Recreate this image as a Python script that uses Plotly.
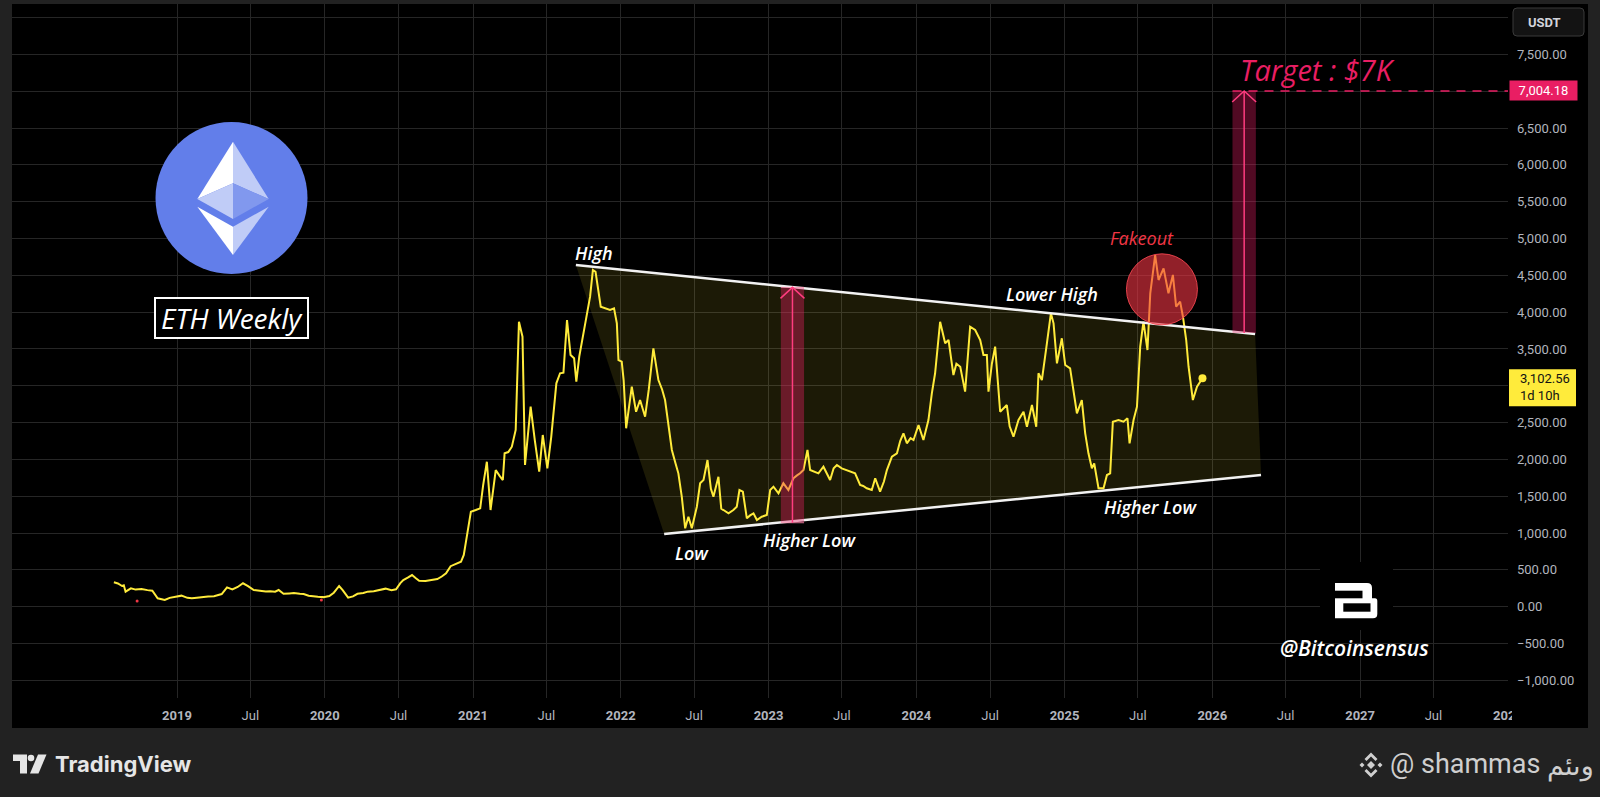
import pandas as pd
import plotly.graph_objects as go

# ---------------- data ----------------
# weekly ETH/USDT closes; time given as decimal year
eth_time = [
    2018.573, 2018.600, 2018.628, 2018.640, 2018.652, 2018.688, 2018.720, 2018.760, 2018.800, 2018.833,
    2018.869, 2018.893, 2018.917, 2018.950, 2018.989, 2019.030, 2019.070, 2019.100, 2019.134, 2019.170,
    2019.210, 2019.250, 2019.280, 2019.302, 2019.338, 2019.374, 2019.410, 2019.446, 2019.480, 2019.519,
    2019.560, 2019.600, 2019.630, 2019.663, 2019.687, 2019.720, 2019.760, 2019.790, 2019.830, 2019.856,
    2019.890, 2019.920, 2019.952, 2019.990, 2020.030, 2020.060, 2020.096, 2020.120, 2020.157, 2020.190,
    2020.220, 2020.260, 2020.289, 2020.330, 2020.370, 2020.410, 2020.450, 2020.481, 2020.510, 2020.530,
    2020.560, 2020.589, 2020.613, 2020.637, 2020.680, 2020.722, 2020.760, 2020.790, 2020.819, 2020.850,
    2020.890, 2020.920, 2020.939, 2020.963, 2020.987, 2021.020, 2021.050, 2021.070, 2021.095, 2021.120,
    2021.155, 2021.180, 2021.203, 2021.215, 2021.240, 2021.264, 2021.290, 2021.312, 2021.336, 2021.353,
    2021.391, 2021.420, 2021.449, 2021.473, 2021.490, 2021.504, 2021.530, 2021.565, 2021.590, 2021.613,
    2021.637, 2021.661, 2021.685, 2021.700, 2021.720, 2021.757, 2021.793, 2021.812, 2021.830, 2021.865,
    2021.897, 2021.928, 2021.955, 2021.974, 2021.985, 2022.007, 2022.020, 2022.037, 2022.075, 2022.104,
    2022.131, 2022.165, 2022.190, 2022.221, 2022.255, 2022.280, 2022.300, 2022.346, 2022.370, 2022.390,
    2022.413, 2022.436, 2022.458, 2022.481, 2022.515, 2022.537, 2022.560, 2022.587, 2022.610, 2022.627,
    2022.661, 2022.680, 2022.695, 2022.729, 2022.762, 2022.785, 2022.803, 2022.826, 2022.853, 2022.875,
    2022.898, 2022.921, 2022.954, 2022.988, 2023.011, 2023.033, 2023.067, 2023.100, 2023.134, 2023.168,
    2023.190, 2023.213, 2023.236, 2023.263, 2023.281, 2023.310, 2023.337, 2023.371, 2023.390, 2023.416,
    2023.440, 2023.462, 2023.495, 2023.529, 2023.560, 2023.585, 2023.619, 2023.640, 2023.664, 2023.698,
    2023.721, 2023.754, 2023.780, 2023.800, 2023.834, 2023.868, 2023.890, 2023.912, 2023.935, 2023.960,
    2023.980, 2024.014, 2024.047, 2024.081, 2024.104, 2024.126, 2024.160, 2024.194, 2024.217, 2024.250,
    2024.270, 2024.296, 2024.329, 2024.350, 2024.363, 2024.397, 2024.431, 2024.453, 2024.476, 2024.487,
    2024.510, 2024.532, 2024.566, 2024.611, 2024.630, 2024.656, 2024.690, 2024.724, 2024.747, 2024.781,
    2024.810, 2024.825, 2024.848, 2024.882, 2024.909, 2024.927, 2024.950, 2024.983, 2025.006, 2025.039,
    2025.062, 2025.085, 2025.118, 2025.141, 2025.163, 2025.186, 2025.202, 2025.231, 2025.265, 2025.288,
    2025.310, 2025.328, 2025.366, 2025.400, 2025.427, 2025.441, 2025.468, 2025.491, 2025.513, 2025.535,
    2025.562, 2025.581, 2025.614, 2025.637, 2025.671, 2025.704, 2025.734, 2025.756, 2025.783, 2025.802,
    2025.824, 2025.840, 2025.869, 2025.897, 2025.934,
]
eth_close = [
    331, 315, 281, 290, 204, 250, 232, 240, 225, 217,
    114, 105, 91, 120, 136, 150, 120, 115, 122, 135,
    140, 142, 160, 172, 263, 236, 268, 318, 280, 227,
    215, 205, 210, 204, 227, 175, 180, 185, 175, 172,
    150, 148, 136, 130, 145, 190, 281, 225, 122, 140,
    175, 185, 204, 210, 230, 245, 225, 236, 320, 362,
    395, 430, 390, 353, 350, 362, 375, 410, 453, 550,
    589, 610, 702, 1000, 1290, 1313, 1336, 1650, 1969, 1313,
    1856, 1780, 1720, 2083, 2100, 2173, 2400, 3870, 3667, 1924,
    2716, 2250, 1833, 2332, 2100, 1880, 2300, 3034, 3170, 3178,
    3893, 3418, 3373, 3055, 3400, 3802, 4210, 4572, 4549, 4074,
    4052, 4029, 4052, 3848, 3350, 3327, 3078, 2423, 2988, 2648,
    2807, 2580, 2950, 3509, 3078, 2950, 2807, 2128, 1950, 1811,
    1494, 1065, 1222, 1065, 1358, 1676, 1720, 1992, 1600, 1494,
    1765, 1330, 1313, 1268, 1313, 1358, 1585, 1562, 1200, 1240,
    1268, 1177, 1222, 1245, 1585, 1630, 1540, 1676, 1585, 1744,
    1780, 1811, 1856, 2128, 1856, 1830, 1811, 1901, 1830, 1720,
    1880, 1924, 1879, 1856, 1830, 1811, 1653, 1640, 1608, 1585,
    1744, 1562, 1700, 1856, 2037, 2083, 2250, 2355, 2219, 2290,
    2264, 2467, 2264, 2535, 2898, 3170, 3870, 3577, 3622, 3146,
    3300, 3259, 2920, 3500, 3802, 3758, 3622, 3418, 3418, 2920,
    3300, 3531, 2648, 2739, 2450, 2309, 2535, 2648, 2444, 2739,
    2444, 3170, 3078, 3577, 3984, 3848, 3305, 3645, 3282, 3237,
    2898, 2626, 2807, 2355, 2083, 1879, 1947, 1608, 1608, 1788,
    1811, 2512, 2535, 2512, 2558, 2219, 2535, 2716, 3531, 3870,
    3486, 4256, 4776, 4437, 4595, 4256, 4505, 4074, 4142, 3938,
    3622, 3259, 2807, 2988, 3102.56,
]
event_time = [2018.73, 2019.976]
event_value = [77, 90]

# chart drawings (anchors as time / price)
upper_time = [2021.697, 2026.29]
upper_price = [4640, 3703]
lower_time = [2022.294, 2026.33]
lower_price = [987, 1790]
range1_time = [2023.083, 2023.24]
range1_price = [1140, 4337]
range2_time = [2026.137, 2026.295]
range2_price = [3717, 7004.18]
target_price = 7004.18
fake_time, fake_price = 2025.66, 4310
label_text = ["High", "Lower High", "Low", "Higher Low", "Higher Low"]
label_time = [2021.817, 2024.918, 2022.483, 2023.274, 2025.581]
label_price = [4803, 4246, 729, 906, 1354]

x_tick_dates = ["2019-01-01", "2019-07-01", "2020-01-01", "2020-07-01", "2021-01-01", "2021-07-01",
                "2022-01-01", "2022-07-01", "2023-01-01", "2023-07-01", "2024-01-01", "2024-07-01",
                "2025-01-01", "2025-07-01", "2026-01-01", "2026-07-01", "2027-01-01", "2027-07-01",
                "2028-01-01"]
x_tick_text = ["<b>2019</b>", "Jul", "<b>2020</b>", "Jul", "<b>2021</b>", "Jul", "<b>2022</b>", "Jul",
               "<b>2023</b>", "Jul", "<b>2024</b>", "Jul", "<b>2025</b>", "Jul", "<b>2026</b>", "Jul",
               "<b>2027</b>", "Jul", "<b>2028</b>"]
y_tick_values = [-1000, -500, 0, 500, 1000, 1500, 2000, 2500, 3000, 3500, 4000, 4500,
                 5000, 5500, 6000, 6500, 7000, 7500, 8000]
y_hidden_ticks = [3000, 7000, 8000]   # covered by the price labels / currency box
countdown = "1d 10h"

# ---------------- helpers ----------------
W, H = 1600, 797
PL, PR, PT, PB = 12, 1508, 4, 698


def to_date(t):
    return pd.Timestamp("2019-01-01") + pd.to_timedelta((t - 2019.0) * 365.25, unit="D")


def ds(t):
    return to_date(t).strftime("%Y-%m-%d %H:%M:%S")


def pxx(px):
    return (px - PL) / (PR - PL)


def pxy(py):
    return 1 - (py - PT) / (PB - PT)


def fmt(v):
    s = f"{abs(v):,.2f}"
    return ("\u2212" + s) if v < 0 else s


YEL = "#FFEB3B"
PINK = "#E91E63"
RED = "#F23645"
GRID = "#262626"
AXT = "#B2B5BE"

eth_dates = [to_date(t) for t in eth_time]

fig = go.Figure()

# wedge fill
poly_t = [upper_time[0], upper_time[1], lower_time[1], lower_time[0], upper_time[0]]
poly_p = [upper_price[0], upper_price[1], lower_price[1], lower_price[0], upper_price[0]]
fig.add_trace(go.Scatter(x=[to_date(t) for t in poly_t], y=poly_p, fill="toself",
                         fillcolor="rgba(255,235,59,0.11)", line=dict(width=0), mode="lines",
                         hoverinfo="skip"))
# price line
fig.add_trace(go.Scatter(x=eth_dates, y=eth_close, mode="lines",
                         line=dict(color=YEL, width=2), hoverinfo="skip"))
fig.add_trace(go.Scatter(x=[eth_dates[-1]], y=[eth_close[-1]], mode="markers",
                         marker=dict(color=YEL, size=8), hoverinfo="skip"))
fig.add_trace(go.Scatter(x=[to_date(t) for t in event_time], y=event_value, mode="markers",
                         marker=dict(color=RED, size=3), hoverinfo="skip"))
# trend lines
for tt, pp in ((upper_time, upper_price), (lower_time, lower_price)):
    fig.add_trace(go.Scatter(x=[to_date(t) for t in tt], y=pp, mode="lines",
                             line=dict(color="#F2F2F2", width=2.5), hoverinfo="skip"))

shapes = []
# panel background
shapes.append(dict(type="rect", xref="paper", yref="paper", x0=pxx(12), x1=pxx(1588),
                   y0=pxy(728), y1=pxy(4), fillcolor="#000000", line=dict(width=0), layer="below"))

# range boxes + arrows
for (tt, pp, fillc, edge) in ((range1_time, range1_price, "rgba(233,30,99,0.38)", True),
                              (range2_time, range2_price, "rgba(233,30,99,0.35)", False)):
    shapes.append(dict(type="rect", xref="x", yref="y", x0=ds(tt[0]), x1=ds(tt[1]),
                       y0=pp[0], y1=pp[1], fillcolor=fillc, line=dict(width=0), layer="above"))
    if edge:
        for yv in pp:
            shapes.append(dict(type="line", xref="x", yref="y", x0=ds(tt[0]), x1=ds(tt[1]),
                               y0=yv, y1=yv, line=dict(color="rgba(255,150,180,0.75)", width=1),
                               layer="above"))
    mid = (tt[0] + tt[1]) / 2
    shapes.append(dict(type="line", xref="x", yref="y", x0=ds(mid), x1=ds(mid),
                       y0=pp[0], y1=pp[1], line=dict(color="#FF3D7F", width=1.5), layer="above"))
    shapes.append(dict(type="path", xref="x", yref="y", xsizemode="pixel", ysizemode="pixel",
                       xanchor=ds(mid), yanchor=pp[1], path="M -12,-11 L 0,0 L 12,-11",
                       line=dict(color="#FF3D7F", width=1.5), fillcolor="rgba(0,0,0,0)",
                       layer="above"))

# target dashed line
shapes.append(dict(type="line", xref="x", yref="y", x0=ds(range2_time[0]), x1="2028-01-01 06:00:00",
                   y0=target_price, y1=target_price, line=dict(color=PINK, width=1.5, dash="9px,7px"),
                   layer="above"))
# fakeout circle
shapes.append(dict(type="circle", xref="x", yref="y", xsizemode="pixel", ysizemode="pixel",
                   xanchor=ds(fake_time), yanchor=fake_price, x0=-35.5, x1=35.5, y0=-35.5, y1=35.5,
                   fillcolor="rgba(242,54,69,0.6)", line=dict(color="rgba(242,70,80,0.9)", width=1),
                   layer="above"))


def pix_path(ax, ay, path, fill, line_w=0, line_c="rgba(0,0,0,0)"):
    return dict(type="path", xref="paper", yref="paper", xsizemode="pixel", ysizemode="pixel",
                xanchor=pxx(ax), yanchor=pxy(ay), path=path, fillcolor=fill,
                line=dict(width=line_w, color=line_c), layer="above")


# ETH logo
shapes.append(dict(type="circle", xref="paper", yref="paper", xsizemode="pixel", ysizemode="pixel",
                   xanchor=pxx(231.5), yanchor=pxy(198), x0=-76, x1=76, y0=-76, y1=76,
                   fillcolor="#627EEA", line=dict(width=0), layer="above"))
T, L, R, M, B1 = (0, 56.3), (-35.7, -1), (35.7, -1), (0, 14.7), (0, -21)
CL, CR, CI, CB = (-35.7, -8.7), (35.7, -8.7), (0, -28.7), (0, -57)


def tri(a, b, c):
    return f"M {a[0]},{a[1]} L {b[0]},{b[1]} L {c[0]},{c[1]} Z"


for pts, col in (((T, L, M), "#FFFFFF"), ((T, M, R), "#C0CCF7"), ((L, M, B1), "#C0CCF7"),
                 ((M, R, B1), "#8198EE"), ((CL, CI, CB), "#FFFFFF"), ((CI, CR, CB), "#C0CCF7")):
    shapes.append(pix_path(233, 198, tri(*pts), col))

# ETH Weekly box
shapes.append(dict(type="rect", xref="paper", yref="paper", x0=pxx(155), x1=pxx(308),
                   y0=pxy(338), y1=pxy(298), fillcolor="#000000", line=dict(color="#FFFFFF", width=2),
                   layer="above"))

# Bitcoinsensus logo
shapes.append(dict(type="rect", xref="paper", yref="paper", x0=pxx(1320), x1=pxx(1393),
                   y0=pxy(630), y1=pxy(562), fillcolor="#000000", line=dict(width=0), layer="above"))
shapes.append(pix_path(1356, 600,
                       "M -21,17 L 11,17 Q 16,17 16,12 L 16,1.7 L 19,1.7 Q 21.3,1.7 21.3,-1 "
                       "L 21.3,-14 Q 21.3,-18.3 17,-18.3 L -21,-18.3 Z", "#FFFFFF"))
shapes.append(pix_path(1356, 600, "M -21.5,9.3 L 6.5,9.3 L 6.5,1.7 L -21.5,1.7 Z", "#000000"))
shapes.append(pix_path(1356, 600, "M -12.7,-3.3 L 14.5,-3.3 L 14.5,-11.7 L -12.7,-11.7 Z", "#000000"))

# price-axis boxes
shapes.append(pix_path(1548.5, 22,
                       "M -31.5,14 L 31.5,14 Q 35.5,14 35.5,10 L 35.5,-10 Q 35.5,-14 31.5,-14 "
                       "L -31.5,-14 Q -35.5,-14 -35.5,-10 L -35.5,10 Q -35.5,14 -31.5,14 Z",
                       "#131313", 1, "#3A3A3A"))
shapes.append(dict(type="rect", xref="paper", yref="y", ysizemode="pixel", yanchor=eth_close[-1],
                   x0=pxx(1509), x1=pxx(1576), y0=-28, y1=9, fillcolor=YEL, line=dict(width=0),
                   layer="above"))
# mask that cuts the last time label at the price scale
shapes.append(dict(type="rect", xref="paper", yref="paper", x0=pxx(1512), x1=pxx(1588),
                   y0=pxy(727), y1=pxy(700), fillcolor="#000000", line=dict(width=0), layer="above"))

# TradingView logo icon
shapes.append(pix_path(30, 764, "M -17,9.5 L -3,9.5 L -3,-9.5 L -10,-9.5 L -10,3 L -17,3 Z", "#E6E6E6"))
shapes.append(dict(type="circle", xref="paper", yref="paper", xsizemode="pixel", ysizemode="pixel",
                   xanchor=pxx(31), yanchor=pxy(758), x0=-3.3, x1=3.3, y0=-3.3, y1=3.3,
                   fillcolor="#E6E6E6", line=dict(width=0), layer="above"))
shapes.append(pix_path(30, 764, "M 8,9.5 L 16.5,9.5 L 8.5,-9.5 L 0,-9.5 Z", "#E6E6E6"))

# Binance icon
for p in ("M 0,4 L 4,0 L 0,-4 L -4,0 Z",
          "M -9,2.5 L -6.5,0 L -9,-2.5 L -11.5,0 Z",
          "M 9,2.5 L 11.5,0 L 9,-2.5 L 6.5,0 Z",
          "M -6.5,6 L 0,12.5 L 6.5,6 L 4.5,4 L 0,8.5 L -4.5,4 Z",
          "M -6.5,-6 L 0,-12.5 L 6.5,-6 L 4.5,-4 L 0,-8.5 L -4.5,-4 Z"):
    shapes.append(pix_path(1371, 765, p, "#CFCFCF"))

anns = []
LBL = dict(family="Open Sans", size=18, color="#FFFFFF", weight=600)
for txt, t, p in zip(label_text, label_time, label_price):
    anns.append(dict(x=ds(t), y=p, xref="x", yref="y", text=f"<i>{txt}</i>", showarrow=False,
                     font=LBL, xanchor="center", yanchor="middle"))
anns.append(dict(x=ds(2025.526), y=5011, xref="x", yref="y", text="<i>Fakeout</i>", showarrow=False,
                 font=dict(family="Open Sans", size=18, color=RED), xanchor="center", yanchor="middle"))
anns.append(dict(x=ds(2026.176), y=7302, xref="x", yref="y", text="<i>Target : $7K</i>", showarrow=False,
                 font=dict(family="Open Sans", size=29, color=PINK), xanchor="left", yanchor="middle"))
anns.append(dict(x=pxx(231.5), y=pxy(318), xref="paper", yref="paper", text="<i>ETH Weekly</i>",
                 showarrow=False, font=dict(family="Open Sans", size=28, color="#FFFFFF"),
                 xanchor="center", yanchor="middle"))
anns.append(dict(x=pxx(1354), y=pxy(648), xref="paper", yref="paper", text="<i>@Bitcoinsensus</i>",
                 showarrow=False, font=dict(family="Open Sans", size=21, color="#FFFFFF", weight=600),
                 xanchor="center", yanchor="middle"))
# price-axis labels
anns.append(dict(x=pxx(1544), y=pxy(22), xref="paper", yref="paper", text="<b>USDT</b>",
                 showarrow=False, font=dict(family="Roboto", size=13, color="#D1D4DC"),
                 xanchor="center", yanchor="middle"))
anns.append(dict(x=pxx(1509), y=target_price, xref="paper", yref="y", text=fmt(target_price),
                 showarrow=False, font=dict(family="Roboto", size=13, color="#FFFFFF"),
                 bgcolor=PINK, borderpad=2, width=63, align="center", xanchor="left", yanchor="middle"))
anns.append(dict(x=pxx(1518), y=eth_close[-1], xref="paper", yref="y",
                 text=f"{fmt(eth_close[-1])}<br>{countdown}", showarrow=False,
                 font=dict(family="Roboto", size=13, color="#131313"), align="left",
                 xanchor="left", yanchor="top", yshift=9))
# footer
anns.append(dict(x=pxx(53), y=pxy(764), xref="paper", yref="paper", text="<b>TradingView</b>",
                 showarrow=False, font=dict(family="Inter", size=22, color="#E6E6E6"),
                 xanchor="left", yanchor="middle"))
anns.append(dict(x=pxx(1388), y=pxy(764), xref="paper", yref="paper", text="@ shammas",
                 showarrow=False, font=dict(family="Roboto", size=27, color="#CFCFCF"),
                 xanchor="left", yanchor="middle"))
anns.append(dict(x=pxx(1545), y=pxy(766), xref="paper", yref="paper", text="وىئم",
                 showarrow=False, font=dict(family="DejaVu Sans", size=27, color="#CFCFCF"),
                 xanchor="left", yanchor="middle"))

y_tick_text = ["" if v in y_hidden_ticks else fmt(v) for v in y_tick_values]

fig.update_layout(
    width=W, height=H,
    margin=dict(l=PL, r=W - PR, t=PT, b=H - PB, pad=0),
    paper_bgcolor="#222222", plot_bgcolor="#000000",
    showlegend=False, shapes=shapes, annotations=anns,
    font=dict(family="Roboto", color=AXT),
    xaxis=dict(type="date", range=[ds(2017.884), "2028-01-01 06:00:00"],
               tickvals=x_tick_dates, ticktext=x_tick_text, tickfont=dict(size=13, color=AXT),
               showgrid=True, gridcolor=GRID, gridwidth=1, zeroline=False, showline=False,
               ticks="", ticklabelstandoff=8, fixedrange=True),
    yaxis=dict(range=[-1240, 8185], side="right", tickvals=y_tick_values, ticktext=y_tick_text,
               tickfont=dict(size=13, color=AXT), showgrid=True, gridcolor=GRID, gridwidth=1,
               zeroline=False, showline=False, ticks="", ticklabelstandoff=8, fixedrange=True),
)

fig.write_html(
    "out.html",
    config={"displayModeBar": False},
    post_script="document.body.style.margin='0';document.body.style.background='#222222';"
                "document.body.style.overflow='hidden';",
)
